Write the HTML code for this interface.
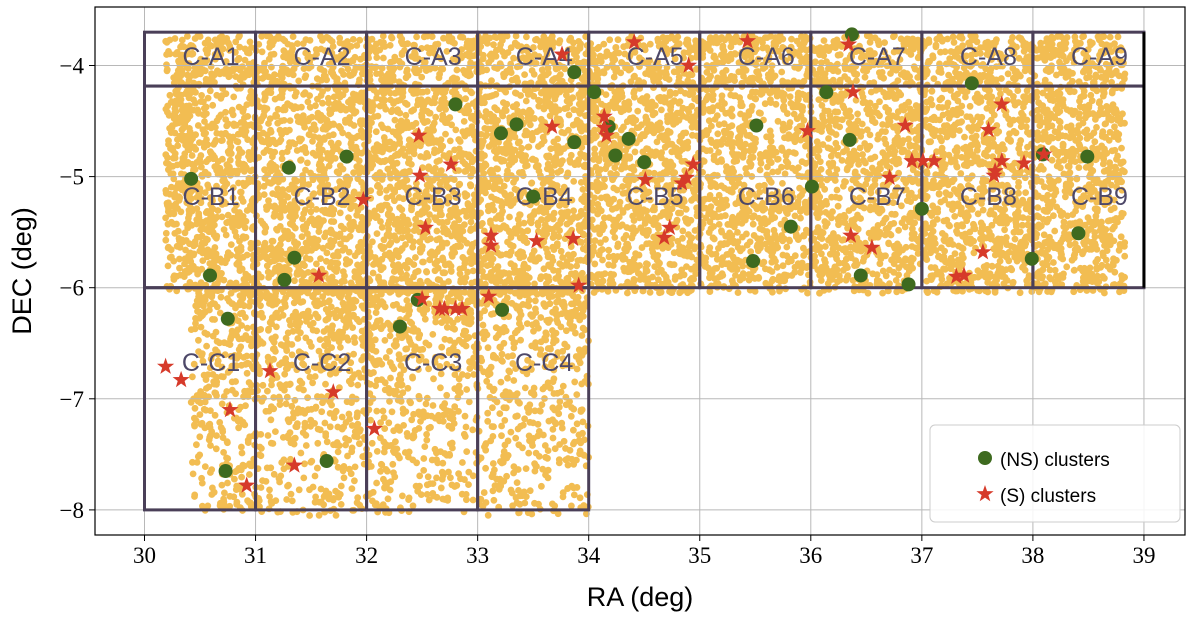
<!DOCTYPE html>
<html><head><meta charset="utf-8"><style>
html,body{margin:0;padding:0;background:#fff;}
svg{display:block;font-family:"Liberation Serif",serif;}
</style></head><body>
<svg id="c" width="1200" height="618" viewBox="0 0 1200 618"></svg>
<script>
const raTicks=[30,31,32,33,34,35,36,37,38,39];
const decTicks=[-4,-5,-6,-7,-8];
const nsRA=[30.42,30.59,30.75,30.73,31.30,31.82,31.35,31.26,32.80,32.46,32.30,33.22,33.21,33.35,33.87,33.87,34.05,34.18,34.24,34.36,34.50,33.50,35.51,35.48,36.01,35.82,36.14,36.35,36.37,36.45,36.88,37.00,37.45,38.09,38.49,38.41,37.99,31.64];
const nsDEC=[-5.02,-5.89,-6.28,-7.65,-4.92,-4.82,-5.73,-5.93,-4.35,-6.11,-6.35,-6.20,-4.61,-4.53,-4.06,-4.69,-4.24,-4.55,-4.81,-4.66,-4.87,-5.18,-4.54,-5.76,-5.09,-5.45,-4.24,-4.67,-3.72,-5.89,-5.97,-5.29,-4.16,-4.80,-4.82,-5.51,-5.74,-7.56];
const sRA=[33.76,34.41,34.90,35.43,36.34,32.47,32.76,32.48,32.53,31.97,31.57,33.67,34.14,34.14,34.16,34.51,34.88,34.94,34.84,34.73,34.68,33.12,33.12,33.53,33.86,33.91,35.97,36.38,36.85,36.91,37.01,37.11,36.71,36.36,36.55,37.72,37.60,37.72,37.92,37.65,37.66,38.10,37.55,37.31,37.38,32.50,32.70,32.80,32.86,32.66,33.10,30.19,30.33,30.77,30.92,31.13,31.70,31.35,32.07];
const sDEC=[-3.90,-3.79,-4.00,-3.78,-3.81,-4.63,-4.89,-4.99,-5.46,-5.21,-5.89,-4.55,-4.46,-4.56,-4.63,-5.03,-5.01,-4.89,-5.06,-5.46,-5.55,-5.53,-5.62,-5.58,-5.56,-5.98,-4.59,-4.24,-4.54,-4.86,-4.86,-4.86,-5.01,-5.53,-5.64,-4.35,-4.58,-4.86,-4.88,-4.99,-4.95,-4.80,-5.68,-5.90,-5.89,-6.10,-6.19,-6.19,-6.19,-6.19,-6.08,-6.71,-6.83,-7.10,-7.78,-6.75,-6.94,-7.60,-7.27];
const rowA=["C-A1","C-A2","C-A3","C-A4","C-A5","C-A6","C-A7","C-A8","C-A9"];
const rowB=["C-B1","C-B2","C-B3","C-B4","C-B5","C-B6","C-B7","C-B8","C-B9"];
const rowC=["C-C1","C-C2","C-C3","C-C4"];

const NS="http://www.w3.org/2000/svg";
const svg=document.getElementById('c');
const X=ra=>144.5+(ra-30)*111.05;
const Y=d=>65.5+(-4-d)*111.1;
function el(tag,attrs,parent){const e=document.createElementNS(NS,tag);for(const k in attrs)e.setAttribute(k,attrs[k]);(parent||svg).appendChild(e);return e;}

// background galaxies (decorative density texture)
const gBg=el('g',{fill:'#f2bd52'});


let seed=12345;const rnd=()=>{seed=(seed*1103515245+12345)%2147483648;return seed/2147483648;};
let pts='';
const dot=(x,y)=>`M${(x-3.4).toFixed(1)},${y.toFixed(1)}a3.4,3.4 0 1,0 6.8,0a3.4,3.4 0 1,0 -6.8,0`;
for(let i=0;i<17500;i++){const x=X(30.19)+rnd()*(X(38.83)-X(30.19));const y=Y(-3.73)+rnd()*(Y(-6.05)-Y(-3.73));pts+=dot(x,y);}
for(let i=0;i<1900;i++){const x=X(30.42)+rnd()*(X(34.0)-X(30.42));const u=rnd();const y=Y(-6.0)+Math.pow(u,1.35)*(Y(-8.05)-Y(-6.0));pts+=dot(x,y);}
el('path',{d:pts},gBg);

// grid
const grid=el('g',{stroke:'#b8b8b8','stroke-width':1});


raTicks.forEach(t=>el('line',{x1:X(t),x2:X(t),y1:7,y2:535},grid));
decTicks.forEach(t=>el('line',{x1:95,x2:1185,y1:Y(t),y2:Y(t)},grid));

// field boxes
const boxes=el('g',{stroke:'#4a3f58','stroke-width':3,fill:'none'});


const labs=el('g',{fill:'#4d4868','font-family':'"Liberation Sans",sans-serif','font-size':25,'text-anchor':'middle'});


function cell(ra0,d0,d1,name,ly){const r=el('rect',{x:X(ra0),y:Y(d0),width:X(ra0+1)-X(ra0),height:Y(d1)-Y(d0)},boxes);


const t=el('text',{x:X(ra0+0.5)+11,y:ly},labs);t.textContent=name;

}
rowA.forEach((n,i)=>cell(30+i,-3.7,-4.185,n,65));
rowB.forEach((n,i)=>cell(30+i,-4.185,-6,n,205));
rowC.forEach((n,i)=>cell(30+i,-6,-8,n,371));
el('line',{x1:X(39),x2:X(39),y1:Y(-3.7),y2:Y(-6),stroke:'#000','stroke-width':3});

// clusters
const gN=el('g',{fill:'#3e6a1f'});


nsRA.forEach((r,i)=>{const c=el('circle',{cx:X(r),cy:Y(nsDEC[i]),r:7},gN);

});
function star(cx,cy,R){let d='';for(let k=0;k<10;k++){const a=-Math.PI/2+k*Math.PI/5;const rr=k%2?R*0.4:R;d+=(k?'L':'M')+(cx+rr*Math.cos(a)).toFixed(1)+','+(cy+rr*Math.sin(a)).toFixed(1);}return d+'Z';}
const gS=el('g',{fill:'#d63a2a'});


sRA.forEach((r,i)=>{const p=el('path',{d:star(X(r),Y(sDEC[i]),9)},gS);

});

// axes frame
const fr=el('rect',{x:95,y:7,width:1090,height:528,fill:'none',stroke:'#000','stroke-width':1.2});


const tk=el('g',{'font-size':23,fill:'#000'});


raTicks.forEach(t=>{el('line',{x1:X(t),x2:X(t),y1:535,y2:541,stroke:'#000'},tk);const e=el('text',{x:X(t),y:563,'text-anchor':'middle'},tk);e.textContent=t;

});
decTicks.forEach(t=>{el('line',{x1:89,x2:95,y1:Y(t),y2:Y(t),stroke:'#000'},tk);const e=el('text',{x:84,y:Y(t)+8,'text-anchor':'end'},tk);e.textContent='\u2212'+Math.abs(t);

});
const xt=el('text',{x:640,y:606,'text-anchor':'middle','font-size':27,'font-family':'"Liberation Sans",sans-serif'});xt.textContent='RA (deg)';


const yt=el('text',{x:0,y:0,'text-anchor':'middle','font-size':27,'font-family':'"Liberation Sans",sans-serif',transform:'translate(31,271) rotate(-90)'});yt.textContent='DEC (deg)';



// legend
const lg=el('g',{});


el('rect',{x:930,y:425,width:250,height:97,rx:5,fill:'#fff','fill-opacity':0.85,stroke:'#ccc'},lg);
el('circle',{cx:985,cy:458,r:7,fill:'#3e6a1f'},lg);
el('path',{d:star(985,494,9),fill:'#d63a2a'},lg);
const l1=el('text',{x:1000,y:466,'font-size':19,'font-family':'"Liberation Sans",sans-serif'},lg);l1.textContent='(NS) clusters';


const l2=el('text',{x:1000,y:502,'font-size':19,'font-family':'"Liberation Sans",sans-serif'},lg);l2.textContent='(S) clusters';


</script>
</body></html>
